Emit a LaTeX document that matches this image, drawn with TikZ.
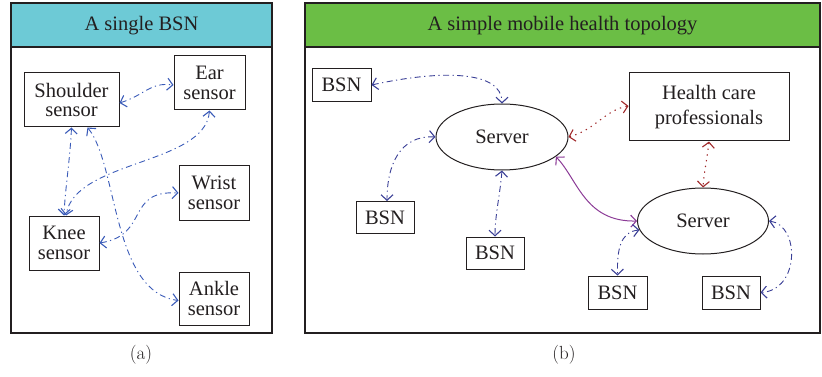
\documentclass[tikz,border=0pt]{standalone}
\usepackage{fontspec}
\setmainfont{Liberation Serif}
\newfontfamily\capfont{Latin Modern Roman}
\usetikzlibrary{shapes.geometric,arrows.meta}
\definecolor{txt}{HTML}{231F20}
\definecolor{hdrcyan}{HTML}{6DCAD6}
\definecolor{hdrgreen}{HTML}{6BBE45}
\definecolor{lblue}{HTML}{3A5BB8}
\definecolor{dblue}{HTML}{3A3F96}
\definecolor{dred}{HTML}{A0282A}
\definecolor{purp}{HTML}{8B3A96}
\begin{document}
\begin{tikzpicture}[x=1pt,y=-1pt,
  every node/.style={text=txt},
  frame/.style={draw=txt,line width=1.1pt},
  hdr/.style={draw=txt,line width=1.1pt},
  sbox/.style={draw=txt,line width=1pt,rectangle,inner sep=0pt,align=center,
     font=\fontsize{20.5}{19.5}\selectfont},
  srv/.style={draw=txt,line width=1pt,ellipse,inner sep=0pt,
     font=\fontsize{20.5}{22}\selectfont},
  tip/.style={{Straight Barb[length=5.5pt,width=12pt,line width=1.1pt]}-{Straight Barb[length=5.5pt,width=12pt,line width=1.1pt]}},
  dd/.style={line width=0.9pt,dash pattern=on 6pt off 3.5pt on 1.2pt off 3.5pt,tip},
  ddl/.style={dd,lblue},
  ddr/.style={dd,dblue},
  dots/.style={dred,line width=1.1pt,dash pattern=on 1.3pt off 4.5pt,tip},
  pline/.style={purp,line width=1pt,tip},
  ttl/.style={font=\fontsize{20.5}{22}\selectfont},
  captxt/.style={font=\capfont\fontsize{19}{21}\selectfont}
]
\useasboundingbox (0,0) rectangle (822,377);
% ----- panel (a)
\fill[hdrcyan] (11,3) rectangle (272,47);
\draw[frame] (11,3) rectangle (272,333);
\draw[hdr] (11,47) -- (272,47);
\node[ttl] (ta) at (141.5,26) {A single BSN};

\node[sbox,minimum width=95pt,minimum height=54pt] (sh) at (71.5,100) {Shoulder\\sensor};
\node[sbox,minimum width=71pt,minimum height=54pt] (ear) at (209.5,83) {Ear\\sensor};
\node[sbox,minimum width=70pt,minimum height=54pt] (wr) at (214,193) {Wrist\\sensor};
\node[sbox,minimum width=70pt,minimum height=54pt] (kn) at (64,243) {Knee\\sensor};
\node[sbox,minimum width=70pt,minimum height=53pt] (an) at (214,298.5) {Ankle\\sensor};

\draw[ddl] ([yshift=-3]sh.east) .. controls (145,95) and (150,82) .. ([yshift=-2]ear.west);
\draw[ddl] (sh.south) .. controls (70,160) and (65,190) .. (kn.north);
\draw[ddl] (ear.south) .. controls (205,165) and (75,160) .. ([xshift=2]kn.north);
\draw[ddl] (kn.east) .. controls (150,235) and (125,190) .. (wr.west);
\draw[ddl] ([xshift=16]sh.south) .. controls (118,165) and (112,292) .. ([yshift=-2]an.west);

% ----- panel (b)
\fill[hdrgreen] (305,3) rectangle (820,47);
\draw[frame] (305,3) rectangle (820,333);
\draw[hdr] (305,47) -- (820,47);
\node[ttl] (tb) at (562.5,26) {A simple mobile health topology};

\node[sbox,minimum width=59pt,minimum height=33pt] (b1) at (341.5,85) {BSN};
\node[srv,minimum width=132pt,minimum height=66pt] (s1) at (502,137) {Server};
\node[sbox,minimum width=160pt,minimum height=68pt,font=\fontsize{20.5}{25}\selectfont] (hcp) at (709,107) {Health care\\professionals};
\node[sbox,minimum width=58pt,minimum height=32pt] (b2) at (385,217.5) {BSN};
\node[sbox,minimum width=58pt,minimum height=32pt] (b3) at (495,253) {BSN};
\node[srv,minimum width=131pt,minimum height=66pt] (s2) at (703,221) {Server};
\node[sbox,minimum width=59pt,minimum height=33pt] (b4) at (617.5,292.5) {BSN};
\node[sbox,minimum width=58pt,minimum height=33pt] (b5) at (731,292.5) {BSN};

\draw[ddr] (b1.east) .. controls (440,70) and (502,70) .. (s1.north);
\draw[ddr] (s1.west) .. controls (400,135) and (387,165) .. ([xshift=2]b2.north);
\draw[ddr] (s1.south) .. controls (500,195) and (495,215) .. (b3.north);
\draw[dots] (s1.east) .. controls (595,130) and (605,110) .. ([yshift=1]hcp.west);
\draw[dots] (hcp.south) .. controls (707,160) and (704,172) .. (s2.north);
\draw[pline] (s1.-20) .. controls (578,180) and (585,222) .. (s2.west);
\draw[ddr] (s2.188) .. controls (620,232) and (617,250) .. (b4.north);
\draw[ddr] (s2.east) .. controls (800,225) and (800,290) .. (b5.east);

% captions
\node[captxt] (ca) at (141,355) {(a)};
\node[captxt] (cb) at (564,355) {(b)};
\end{tikzpicture}
\end{document}
